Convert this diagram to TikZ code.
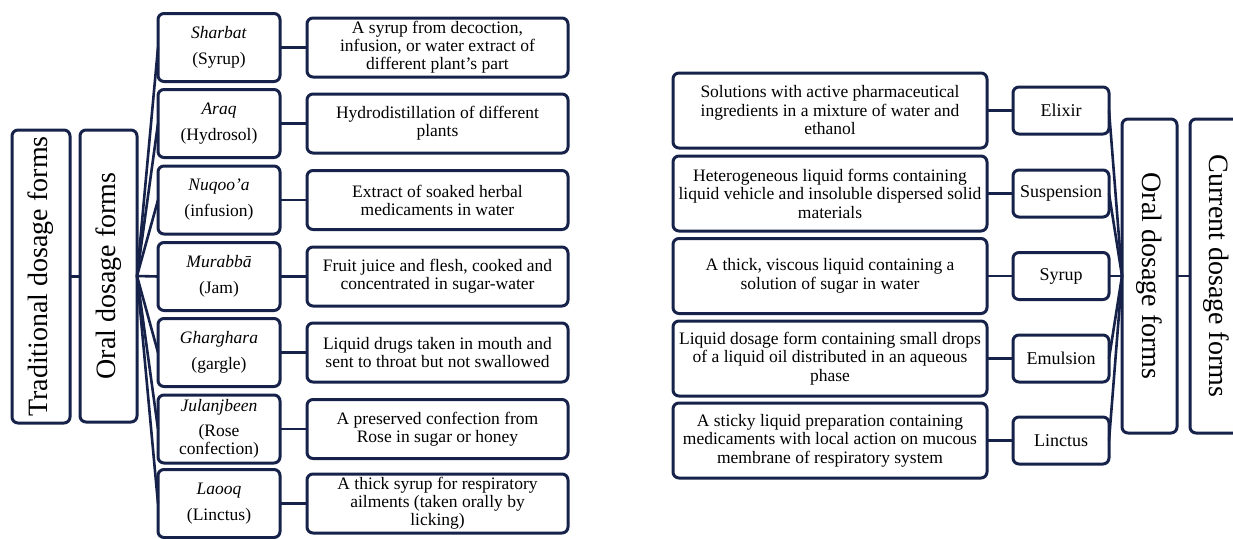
\documentclass[tikz,border=0pt]{standalone}
\usepackage{fontspec}
\setmainfont{Liberation Serif}
\definecolor{navy}{HTML}{16224A}
\tikzset{
  box/.style={draw=navy, line width=3pt, rounded corners=6pt, fill=white,
    inner sep=0pt, outer sep=0pt, align=center},
  bigbox/.style={box, font=\fontsize{28}{30}\selectfont},
  itembox/.style={box, minimum width=122pt, minimum height=68pt,
    font=\fontsize{17.5}{18}\selectfont},
  descbox/.style={box, minimum width=261pt, minimum height=59pt,
    font=\fontsize{17.5}{18}\selectfont},
  rdescbox/.style={box, minimum width=314pt, minimum height=75pt,
    font=\fontsize{17.5}{18.5}\selectfont},
  formbox/.style={box, minimum width=96pt, minimum height=47pt,
    font=\fontsize{18}{19}\selectfont},
  link/.style={draw=navy, line width=2.6pt},
}
\begin{document}
\begin{tikzpicture}[x=1pt, y=-1pt]

% Canvas
\useasboundingbox (0,0) rectangle (1233,538);
\fill[white] (0,0) rectangle (1233,538);

% Left: traditional dosage forms
\node[bigbox, rotate=90, minimum width=293pt, minimum height=58pt] (trad) at (41,276.5) {Traditional dosage forms};
\node[bigbox, rotate=90, minimum width=292pt, minimum height=57pt] (oralL) at (108.5,276) {Oral dosage forms};
\draw[link] (trad.south) -- (oralL.north |- trad.south) -- (oralL.north);

\foreach \i/\y/\nm/\ds in {
  1/47.5/{\textit{Sharbat}\\[8pt](Syrup)}/{A syrup from decoction,\\infusion, or water extract of\\different plant’s part},
  2/123.5/{\textit{Araq}\\[8pt](Hydrosol)}/{Hydrodistillation of different\\plants},
  3/200/{\textit{Nuqoo’a}\\[8pt](infusion)}/{Extract of soaked herbal\\medicaments in water},
  4/276.5/{\textit{Murabbā}\\[8pt](Jam)}/{Fruit juice and flesh, cooked and\\concentrated in sugar-water},
  5/352.5/{\textit{Gharghara}\\[8pt](gargle)}/{Liquid drugs taken in mouth and\\sent to throat but not swallowed},
  6/429/{\textit{Julanjbeen}\\[7pt](Rose\\confection)}/{A preserved confection from\\Rose in sugar or honey},
  7/503.5/{\textit{Laooq}\\[8pt](Linctus)}/{A thick syrup for respiratory\\ailments (taken orally by\\licking)}} {
    \node[itembox] (item-\i) at (219,\y) {\nm};
    \node[descbox] (desc-\i) at (437.5,\y) {\ds};
    \draw[link] (oralL.south) -- (item-\i.west);
    \draw[link] (item-\i.east) -- (desc-\i.west);
}

% Right: current dosage forms
\node[bigbox, rotate=-90, minimum width=314pt, minimum height=55pt] (oralR) at (1149.5,276) {Oral dosage forms};
\node[bigbox, rotate=-90, minimum width=314pt, minimum height=52pt] (curr) at (1216,276) {Current dosage forms};
\draw[link] (oralR.north) -- (curr.south);

\foreach \i/\y/\nm/\ds in {
  1/110.5/Elixir/{Solutions with active pharmaceutical\\ingredients in a mixture of water and\\ethanol},
  2/193.5/Suspension/{Heterogeneous liquid forms containing\\liquid vehicle and insoluble dispersed solid\\materials},
  3/276/Syrup/{A thick, viscous liquid containing a\\solution of sugar in water},
  4/358.5/Emulsion/{Liquid dosage form containing small drops\\of a liquid oil distributed in an aqueous\\phase},
  5/440.5/Linctus/{A sticky liquid preparation containing\\medicaments with local action on mucous\\membrane of respiratory system}} {
    \node[formbox] (form-\i) at (1061,\y) {\nm};
    \node[rdescbox] (rdesc-\i) at (830,\y) {\ds};
    \draw[link] (form-\i.east) -- (oralR.south);
    \draw[link] (rdesc-\i.east) -- (form-\i.west);
}

\end{tikzpicture}
\end{document}
